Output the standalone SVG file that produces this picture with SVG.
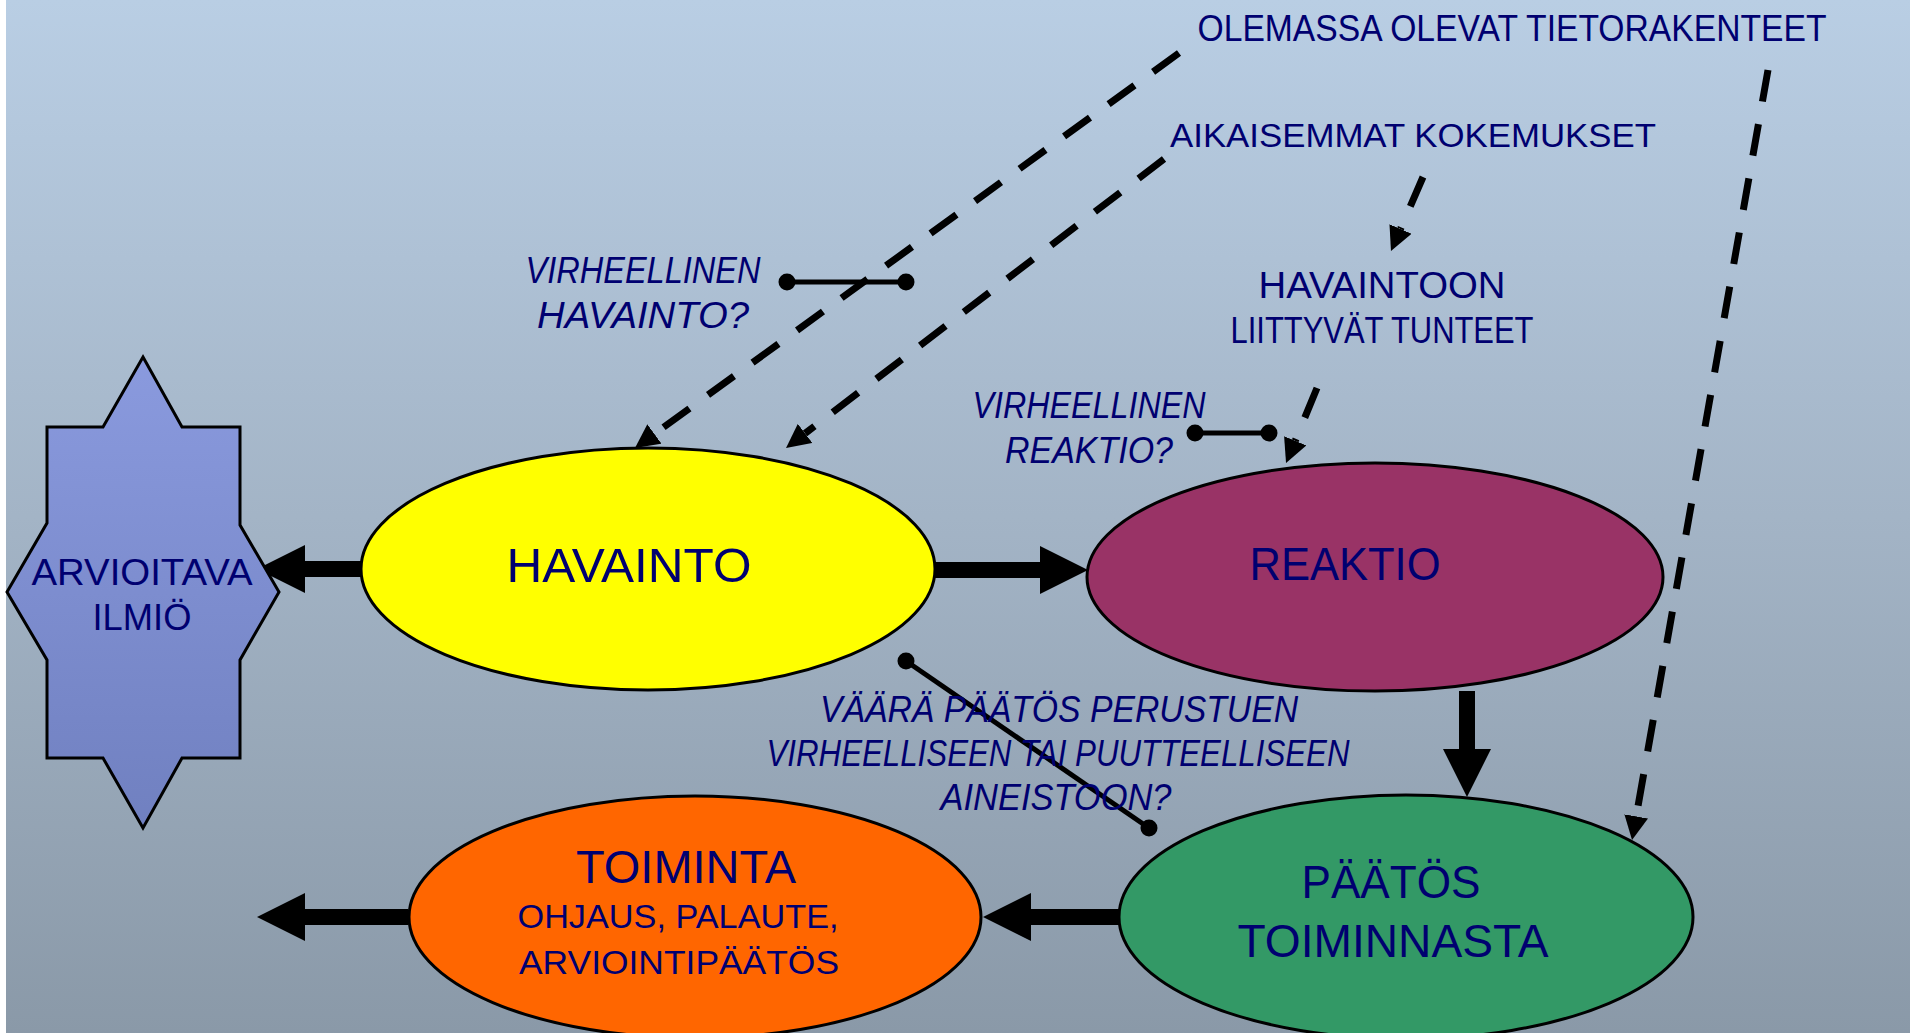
<svg xmlns="http://www.w3.org/2000/svg" width="1910" height="1033" viewBox="0 0 1910 1033">
<defs>
<linearGradient id="bg" x1="0" y1="0" x2="0" y2="1">
<stop offset="0" stop-color="#b9cee4"/>
<stop offset="0.5" stop-color="#a3b4c6"/>
<stop offset="1" stop-color="#8a99a8"/>
</linearGradient>
<linearGradient id="star" x1="0" y1="0" x2="0" y2="1">
<stop offset="0" stop-color="#8a9ade"/>
<stop offset="1" stop-color="#7080c0"/>
</linearGradient>
<marker id="big" markerUnits="userSpaceOnUse" markerWidth="48" markerHeight="48" refX="0" refY="24" orient="auto" viewBox="0 0 48 48">
<path d="M0,0 L48,24 L0,48 Z" fill="#000"/>
</marker>
<marker id="small" markerUnits="userSpaceOnUse" markerWidth="24" markerHeight="24" refX="0" refY="12" orient="auto" viewBox="0 0 24 24">
<path d="M0,0 L24,12 L0,24 Z" fill="#000"/>
</marker>
<style>
.node{stroke:#000;stroke-width:3}
.t{font-family:"Liberation Sans",Arial,sans-serif;fill:#000070;text-anchor:middle}
.i{font-style:italic}
.thick{stroke:#000;stroke-width:16;fill:none;marker-end:url(#big)}
.dash{stroke:#000;stroke-width:7;fill:none;stroke-dasharray:32 23;marker-end:url(#small)}
.pin{stroke:#000;stroke-width:5;fill:none}
.dot{fill:#000}
</style>
</defs>
<rect x="0" y="0" width="1910" height="1033" fill="url(#bg)"/>
<rect x="0" y="0" width="6" height="1033" fill="#ffffff"/>

<g id="connectors">
<line class="thick" x1="361" y1="569" x2="305" y2="569"/>
<line class="thick" x1="935" y1="570" x2="1040" y2="570"/>
<line class="thick" x1="1467" y1="691" x2="1467" y2="749"/>
<line class="thick" x1="1119" y1="917" x2="1031" y2="917"/>
<line class="thick" x1="408" y1="917" x2="305" y2="917"/>
<line class="dash" x1="1179" y1="53" x2="654.4" y2="433.9"/>
<line class="dash" x1="1164" y1="159" x2="805.1" y2="433.4"/>
<line class="dash" x1="1423" y1="177" x2="1400.5" y2="229"/>
<line class="dash" x1="1317" y1="388" x2="1295.2" y2="440.8"/>
<line class="dash" x1="1768" y1="70" x2="1636.2" y2="816.4"/>
<g id="pin1"><line class="pin" x1="787" y1="282" x2="906" y2="282"/><circle class="dot" cx="787" cy="282" r="8.5"/><circle class="dot" cx="906" cy="282" r="8.5"/></g>
<g id="pin2"><line class="pin" x1="1195" y1="433" x2="1269" y2="433"/><circle class="dot" cx="1195" cy="433" r="8.5"/><circle class="dot" cx="1269" cy="433" r="8.5"/></g>
<g id="pin3"><line class="pin" x1="906" y1="661" x2="1149" y2="828"/><circle class="dot" cx="906" cy="661" r="8.5"/><circle class="dot" cx="1149" cy="828" r="8.5"/></g>
</g>

<g id="arvioitava">
<polygon class="node" fill="url(#star)" stroke-width="2.5" points="143,357 182,427 240,427 240,525 279,592 240,660 240,758 182,758 143,828 103,758 47,758 47,660 7,592 47,523 47,427 103,427"/>
<text class="t" x="142" y="585" font-size="37" textLength="221" lengthAdjust="spacingAndGlyphs">ARVIOITAVA</text>
<text class="t" x="142" y="630" font-size="37" textLength="99" lengthAdjust="spacingAndGlyphs">ILMIÖ</text>
</g>

<g id="havainto">
<ellipse class="node" cx="648" cy="569" rx="287" ry="121" fill="#ffff00"/>
<text class="t" x="629" y="582" font-size="48" textLength="245" lengthAdjust="spacingAndGlyphs">HAVAINTO</text>
</g>

<g id="reaktio">
<ellipse class="node" cx="1375" cy="577" rx="288" ry="114" fill="#993366"/>
<text class="t" x="1345" y="580" font-size="46" textLength="191" lengthAdjust="spacingAndGlyphs">REAKTIO</text>
</g>

<g id="toiminta">
<ellipse class="node" cx="695" cy="917" rx="286" ry="121" fill="#ff6600"/>
<text class="t" x="686" y="883" font-size="46" textLength="220" lengthAdjust="spacingAndGlyphs">TOIMINTA</text>
<text class="t" x="678" y="928" font-size="34" textLength="321" lengthAdjust="spacingAndGlyphs">OHJAUS, PALAUTE,</text>
<text class="t" x="679" y="974" font-size="34" textLength="320" lengthAdjust="spacingAndGlyphs">ARVIOINTIPÄÄTÖS</text>
</g>

<g id="paatos">
<ellipse class="node" cx="1406" cy="917" rx="287" ry="122" fill="#339966"/>
<text class="t" x="1391" y="898" font-size="46" textLength="179" lengthAdjust="spacingAndGlyphs">PÄÄTÖS</text>
<text class="t" x="1393" y="957" font-size="46" textLength="311" lengthAdjust="spacingAndGlyphs">TOIMINNASTA</text>
</g>

<g id="olemassa">
<text class="t" x="1512" y="41" font-size="36" textLength="629" lengthAdjust="spacingAndGlyphs">OLEMASSA OLEVAT TIETORAKENTEET</text>
</g>
<g id="aikaisemmat">
<text class="t" x="1413" y="147" font-size="34" textLength="486" lengthAdjust="spacingAndGlyphs">AIKAISEMMAT KOKEMUKSET</text>
</g>
<g id="tunteet">
<text class="t" x="1382" y="298" font-size="36" textLength="247" lengthAdjust="spacingAndGlyphs">HAVAINTOON</text>
<text class="t" x="1382" y="343" font-size="36" textLength="303" lengthAdjust="spacingAndGlyphs">LIITTYVÄT TUNTEET</text>
</g>
<g id="virh-havainto">
<text class="t i" x="643" y="283" font-size="36" textLength="235" lengthAdjust="spacingAndGlyphs">VIRHEELLINEN</text>
<text class="t i" x="643" y="328" font-size="36" textLength="212" lengthAdjust="spacingAndGlyphs">HAVAINTO?</text>
</g>
<g id="virh-reaktio">
<text class="t i" x="1089" y="418" font-size="36" textLength="233" lengthAdjust="spacingAndGlyphs">VIRHEELLINEN</text>
<text class="t i" x="1089" y="463" font-size="36" textLength="168" lengthAdjust="spacingAndGlyphs">REAKTIO?</text>
</g>
<g id="vaara-paatos">
<text class="t i" x="1059" y="722" font-size="36" textLength="478" lengthAdjust="spacingAndGlyphs">VÄÄRÄ PÄÄTÖS PERUSTUEN</text>
<text class="t i" x="1058" y="766" font-size="36" textLength="583" lengthAdjust="spacingAndGlyphs">VIRHEELLISEEN TAI PUUTTEELLISEEN</text>
<text class="t i" x="1056" y="810" font-size="36" textLength="231" lengthAdjust="spacingAndGlyphs">AINEISTOON?</text>
</g>
</svg>
